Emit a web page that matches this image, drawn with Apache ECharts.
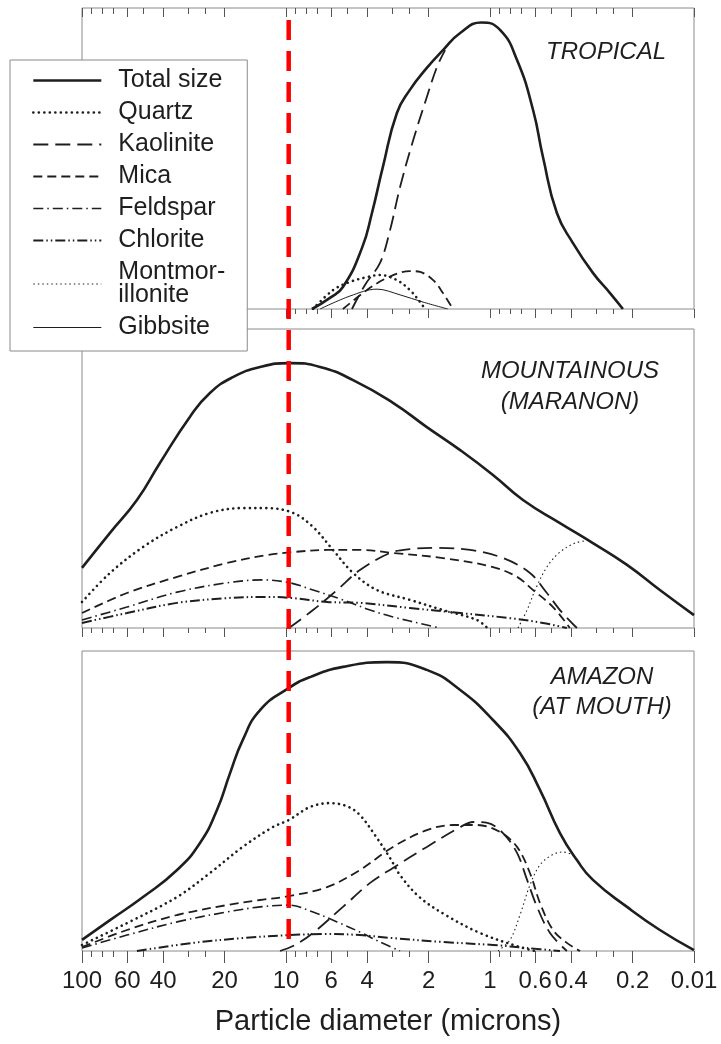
<!DOCTYPE html>
<html><head><meta charset="utf-8">
<script src="https://cdn.jsdelivr.net/npm/echarts@6/dist/echarts.min.js"></script>
<style>html,body{margin:0;padding:0;background:#fff}#c{width:721px;height:1044px}</style>
</head><body><div id="c"></div>
<script>
// ---------- axis ticks / labels ----------
const tickValues = [100,90,80,70,60,50,40,30,25,20,10,9,8,7,6,5,4,3,2.5,2,1,0.9,0.8,0.7,0.6,0.5,0.4,0.3,0.25,0.2,0.1];
const labelValues = [100,60,40,20,10,6,4,2,1,0.6,0.4,0.2,0.1];
const labelTexts = ['100','60','40','20','10','6','4','2','1','0.6','0.4','0.2','0.01'];
const axisTitle = 'Particle diameter (microns)';
const cutoffDiameter = 9.7;

const seriesNames = ['Total size','Quartz','Kaolinite','Mica','Feldspar','Chlorite','Montmorillonite','Gibbsite'];
const panelTitles = ['TROPICAL', 'MOUNTAINOUS\n(MARANON)', 'AMAZON\n(AT MOUTH)'];

// ---------- TROPICAL ([diameter µm, relative amount]) ----------
const tropicalTotal = [[7.46,0],[6.09,3.7],[5.26,7.3],[4.24,20.3],[3.79,31.9],[3.35,47.2],[2.86,65.1],[2.47,72.8],[2.04,80.1],[1.70,86.0],[1.40,91.7],[1.10,95.2],[0.893,92.7],[0.737,82.7],[0.615,66.1],[0.550,50.5],[0.470,31.9],[0.392,21.9],[0.313,12.0],[0.258,5.3],[0.223,0]];
const tropicalQuartz = [[7.37,0],[5.88,6.3],[4.86,9.0],[4.01,10.6],[3.46,11.3],[2.86,9.6],[2.47,6.3],[2.20,2.3],[2.08,0]];
const tropicalKaolinite = [[4.75,0],[4.10,8],[3.46,15.3],[3.09,26.2],[2.76,40.5],[2.38,56.1],[2.04,70.4],[1.82,80.4],[1.66,86.0]];
const tropicalMica = [[5.26,0],[4.01,6.3],[3.20,10.3],[2.47,12.6],[2.20,12.3],[1.90,9.6],[1.70,5.3],[1.52,0]];
const tropicalGibbsite = [[6.81,0],[4.86,4.3],[3.58,6.6],[2.76,4.7],[2.13,2.3],[1.61,0]];

// ---------- MOUNTAINOUS (MARANON) ----------
const mountTotal = [[100,20.1],[72.9,31.8],[53.8,42.8],[41.5,55.2],[29.6,70.6],[23.6,78.6],[18.2,83.9],[13.4,87.3],[9.56,88.6],[6.81,87.3],[4.69,82.9],[2.99,75.3],[2.04,67.2],[1.40,59.5],[0.967,51.2],[0.689,42.8],[0.454,35.1],[0.313,28.4],[0.213,21.1],[0.147,12.7],[0.1,4.3]];
const mountQuartz = [[100,8.7],[72.9,18.4],[50.2,27.1],[34.2,33.8],[23.6,38.5],[16.3,40.1],[12.4,40.1],[9.24,38.5],[7.37,33.8],[5.88,26.1],[4.69,18.4],[3.58,12.7],[2.47,9.4],[1.70,6.0],[1.16,2.7],[1.03,0]];
const mountKaolinite = [[9.67,0],[7.37,6.0],[5.62,12.7],[4.34,19.4],[3.09,25.1],[2.47,26.4],[1.82,26.8],[1.25,26.1],[0.864,23.4],[0.637,18.4],[0.526,11.7],[0.454,6.0],[0.375,0]];
const mountMica = [[100,5.0],[60.2,11.7],[34.2,17.1],[19.5,21.7],[12.4,24.4],[9.24,25.4],[6.29,26.1],[4.34,26.1],[2.99,25.1],[1.70,23.4],[0.967,20.4],[0.737,17.1],[0.615,12.7],[0.491,7.0],[0.406,0]];
const mountFeldspar = [[100,2.7],[60.2,7.0],[34.2,12.0],[19.5,15.1],[13.0,16.1],[9.56,15.1],[7.37,12.7],[5.26,9.4],[3.87,6.0],[2.99,3.7],[2.04,1.0],[1.76,0]];
const mountChlorite = [[100,1.7],[60.2,5.0],[34.2,8.4],[19.5,10.0],[12.4,10.4],[9.24,10.0],[6.29,8.7],[4.34,8.4],[2.47,6.7],[1.40,5.0],[0.798,3.3],[0.550,1.7],[0.420,0]];
const mountMontmorillonite = [[0.729,0],[0.658,6.0],[0.601,12.7],[0.526,20.4],[0.454,25.4],[0.383,28.4],[0.342,29.1]];

// ---------- AMAZON (AT MOUTH) ----------
const amazTotal = [[100,3.7],[72.9,10.3],[50.2,18.0],[34.2,27.0],[26.4,36.0],[21.8,47.0],[18.8,59.3],[16.3,70.3],[13.4,80.3],[9.67,87.7],[7.63,91.3],[5.26,94.7],[3.20,96.3],[2.04,93.7],[1.40,87.0],[0.967,77.0],[0.713,66.0],[0.569,53.7],[0.454,39.3],[0.375,30.3],[0.313,23.7],[0.213,14.7],[0.147,7.0],[0.1,0.3]];
const amazQuartz = [[100,2.0],[60.2,9.3],[34.2,18.0],[23.6,26.0],[16.3,34.7],[11.6,41.3],[9.67,43.7],[7.63,48.0],[6.09,49.3],[5.0,48.2],[4.34,45.3],[3.67,38.7],[3.09,31.0],[2.76,25.3],[2.22,18.0],[1.65,12.0],[1.12,6.0],[0.713,1.3],[0.6,0]];
const amazKaolinite = [[10.7,0],[9.03,2.0],[7.37,6.0],[5.26,14.7],[3.87,22.7],[2.99,27.7],[2.04,34.7],[1.40,41.3],[1.21,43.0],[1.03,42.7],[0.864,39.3],[0.737,32.7],[0.658,23.7],[0.588,14.7],[0.508,6.0],[0.420,0]];
const amazMica = [[100,1.3],[60.2,7.0],[34.2,12.0],[19.5,15.3],[13.4,17.0],[9.67,18.3],[6.29,21.3],[4.34,27.0],[2.99,34.7],[2.04,40.3],[1.52,42.0],[1.16,42.0],[0.893,39.7],[0.737,34.7],[0.637,26.0],[0.569,16.0],[0.491,7.0],[0.420,2.7],[0.362,0]];
const amazFeldspar = [[100,1.0],[60.2,5.3],[34.2,9.7],[19.5,13.0],[13.4,14.7],[9.67,15.3],[7.37,13.0],[5.62,9.7],[4.34,6.3],[3.46,3.0],[2.76,0]];
const amazChlorite = [[53.8,0],[28.6,2.7],[16.3,4.3],[9.67,5.3],[6.29,5.7],[4.34,5.3],[2.99,4.3],[1.70,3.0],[0.967,2.0],[0.659,1.0],[0.454,0]];
const amazMontmorillonite = [[0.914,0],[0.798,3.7],[0.713,12.0],[0.637,22.0],[0.569,28.7],[0.497,32.0],[0.439,33.0],[0.383,31.7]];

// ---------- build ----------
const panels = [
  {'Total size': tropicalTotal, 'Quartz': tropicalQuartz, 'Kaolinite': tropicalKaolinite, 'Mica': tropicalMica, 'Gibbsite': tropicalGibbsite},
  {'Total size': mountTotal, 'Quartz': mountQuartz, 'Kaolinite': mountKaolinite, 'Mica': mountMica, 'Feldspar': mountFeldspar, 'Chlorite': mountChlorite, 'Montmorillonite': mountMontmorillonite},
  {'Total size': amazTotal, 'Quartz': amazQuartz, 'Kaolinite': amazKaolinite, 'Mica': amazMica, 'Feldspar': amazFeldspar, 'Chlorite': amazChlorite, 'Montmorillonite': amazMontmorillonite}
];

const FONT = "'Liberation Sans', Arial, Helvetica, sans-serif";
const INK = '#1e1e1e';
const LINE = {
  'Total size': {width: 2.6, type: 'solid', smooth: 0.5},
  'Quartz': {width: 2.6, type: [0.1, 5.4], cap: 'round'},
  'Kaolinite': {width: 1.8, type: [15, 7]},
  'Mica': {width: 1.8, type: [9, 5]},
  'Feldspar': {width: 1.6, type: [10, 4, 1.5, 4]},
  'Chlorite': {width: 2, type: [10, 3, 1.5, 3, 1.5, 3]},
  'Montmorillonite': {width: 1.1, type: [1.5, 3]},
  'Gibbsite': {width: 1, type: 'solid'}
};

const grids = [
  {left: 82, right: 27, top: 8, height: 301},
  {left: 82, right: 27, top: 329, height: 299},
  {left: 82, right: 27, top: 651, height: 300},
  {left: 82, right: 27, top: 20, height: 929}
].map((g, i) => Object.assign({show: i < 3, borderColor: '#8a8a8a', borderWidth: 1, backgroundColor: 'transparent',
  containLabel: false, outerBoundsMode: 'none'}, g));

function tickAxis(grid, pos, values, len, inside, extra) {
  return Object.assign({
    type: 'log', logBase: 10, gridIndex: grid, position: pos, min: 0.1, max: 100, inverse: true,
    axisLine: {show: false}, splitLine: {show: false}, minorTick: {show: false},
    axisTick: {show: true, customValues: values, length: len, inside: inside, lineStyle: {color: '#555', width: 1}},
    axisLabel: {show: false}
  }, extra || {});
}
function labelFor(v) {
  let best = 0, bd = Infinity;
  labelValues.forEach((lv, i) => { const d = Math.abs(Math.log10(lv) - Math.log10(v)); if (d < bd) { bd = d; best = i; } });
  return labelTexts[best];
}

const xAxis = [
  tickAxis(0, 'bottom', tickValues, 5, false),
  tickAxis(0, 'bottom', labelValues, 9, false),
  tickAxis(0, 'top', tickValues, 6, true),
  tickAxis(0, 'top', labelValues, 9, true),
  tickAxis(1, 'bottom', tickValues, 5, false),
  tickAxis(1, 'bottom', labelValues, 9, false),
  tickAxis(2, 'bottom', tickValues, 6, false),
  tickAxis(2, 'bottom', labelValues, 12, false, {
    axisLabel: {show: true, customValues: labelValues, formatter: labelFor, hideOverlap: false,
      fontFamily: FONT, fontSize: 24, color: INK, margin: 18},
    name: axisTitle, nameLocation: 'middle', nameGap: 56,
    nameTextStyle: {fontFamily: FONT, fontSize: 29, color: INK}
  }),
  {type: 'log', logBase: 10, gridIndex: 3, min: 0.1, max: 100, inverse: true, show: false}
];
const primaryX = [0, 4, 6];
const yAxis = [0, 1, 2].map(i => ({type: 'value', gridIndex: i, min: 0, max: 100, show: false}))
  .concat([{type: 'value', gridIndex: 3, min: 0, max: 1, show: false}]);

const series = [];
panels.forEach((p, gi) => {
  seriesNames.forEach(name => {
    if (!p[name]) return;
    const ls = LINE[name];
    series.push({
      type: 'line', name: name, xAxisIndex: primaryX[gi], yAxisIndex: gi, data: p[name],
      smooth: ls.smooth || 0.35, symbol: 'none', silent: true, z: 3,
      lineStyle: {color: INK, width: ls.width, type: ls.type, cap: ls.cap || 'butt'}
    });
  });
});
series.push({
  type: 'line', name: 'cutoff', xAxisIndex: 8, yAxisIndex: 3, symbol: 'none', silent: true, z: 6,
  data: [[cutoffDiameter, 1], [cutoffDiameter, 0]],
  lineStyle: {color: '#ff0000', width: 4.5, type: [20, 11]}
});

const titleStyle = {fontFamily: FONT, fontSize: 24, fontStyle: 'italic', fontWeight: 'normal', color: INK, lineHeight: 31};
const title = [
  {text: panelTitles[0], left: 606, top: 37, textAlign: 'center', padding: 0, textStyle: titleStyle},
  {text: panelTitles[1], left: 570, top: 356, textAlign: 'center', padding: 0, textStyle: titleStyle},
  {text: panelTitles[2], left: 602, top: 662, textAlign: 'center', padding: 0, textStyle: Object.assign({}, titleStyle, {lineHeight: 30})}
];

const legendData = seriesNames.map(n => ({
  name: n,
  lineStyle: {color: INK, width: LINE[n].width, type: LINE[n].type, cap: LINE[n].cap || 'butt', opacity: 1}
}));

const chart = echarts.init(document.getElementById('c'), null, {renderer: 'canvas'});
chart.setOption({
  animation: false,
  backgroundColor: '#fff',
  title: title,
  grid: grids,
  xAxis: xAxis,
  yAxis: yAxis,
  legend: {
    data: legendData, orient: 'vertical', left: 10, top: 60,
    itemWidth: 68, itemHeight: 14, itemGap: 7,
    padding: [8, 22, 11, 22], backgroundColor: '#fff', borderColor: '#8a8a8a', borderWidth: 1,
    formatter: n => n === 'Montmorillonite' ? 'Montmor-\nillonite' : n,
    textStyle: {fontFamily: FONT, fontSize: 25, color: INK, lineHeight: 23, padding: [0, 0, 0, 12]},
    itemStyle: {opacity: 0}, selectedMode: false, z: 20
  },
  series: series
});
</script></body></html>
